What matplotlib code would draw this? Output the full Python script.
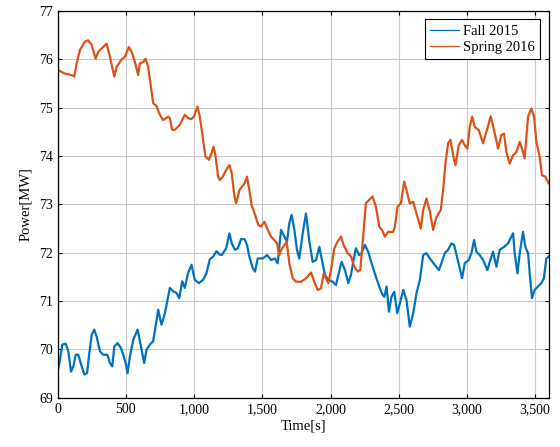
import matplotlib
matplotlib.use("Agg")
import matplotlib.pyplot as plt
from matplotlib.ticker import FuncFormatter

plt.rcParams['font.family'] = ['Liberation Serif', 'DejaVu Serif']
plt.rcParams['mathtext.fontset'] = 'stix'

# Fall 2015 (blue)
fall_t = [0, 5, 17, 34, 59, 78, 98, 115, 132, 151, 176, 195, 215, 232, 249, 268, 285, 310, 334, 364,
          383, 400, 415, 439, 464, 481, 498, 512, 530, 554, 586, 610, 634, 651, 676, 700, 725, 737,
          761, 786, 805, 822, 847, 871, 891, 913, 932, 956, 981, 1005, 1035, 1066, 1091, 1115, 1140,
          1164, 1188, 1203, 1235, 1259, 1276, 1300, 1320, 1344, 1369, 1388, 1405, 1430, 1447, 1466,
          1503, 1535, 1564, 1593, 1613, 1637, 1657, 1681, 1698, 1715, 1735, 1754, 1771, 1796, 1820,
          1845, 1869, 1894, 1918, 1942, 1959, 1984, 2015, 2040, 2057, 2081, 2106, 2130, 2150, 2169,
          2186, 2210, 2228, 2252, 2276, 2301, 2333, 2357, 2381, 2394, 2411, 2428, 2447, 2467, 2489,
          2508, 2533, 2557, 2581, 2606, 2630, 2655, 2679, 2703, 2728, 2764, 2794, 2813, 2838, 2862,
          2886, 2906, 2930, 2947, 2964, 2984, 3013, 3033, 3052, 3069, 3094, 3118, 3150, 3167, 3191,
          3216, 3240, 3272, 3301, 3326, 3338, 3350, 3370, 3387, 3411, 3428, 3448, 3460, 3477, 3496,
          3521, 3545, 3564, 3582, 3600]
fall_v = [69.55, 69.61, 69.79, 70.10, 70.12, 69.96, 69.54, 69.65, 69.89, 69.89, 69.65, 69.48, 69.51,
          69.92, 70.30, 70.41, 70.27, 69.96, 69.89, 69.89, 69.72, 69.65, 70.06, 70.13, 70.03, 69.89,
          69.72, 69.51, 69.86, 70.20, 70.41, 70.06, 69.72, 69.99, 70.10, 70.17, 70.61, 70.82, 70.51,
          70.75, 71.03, 71.27, 71.20, 71.17, 71.06, 71.41, 71.27, 71.58, 71.75, 71.44, 71.37, 71.44,
          71.58, 71.86, 71.92, 72.03, 71.96, 71.95, 72.09, 72.40, 72.19, 72.06, 72.09, 72.28, 72.28,
          72.16, 71.92, 71.68, 71.61, 71.88, 71.88, 71.95, 71.85, 71.88, 71.78, 72.47, 72.36, 72.23,
          72.61, 72.78, 72.47, 72.06, 71.88, 72.40, 72.81, 72.23, 71.81, 71.85, 72.12, 71.78, 71.54,
          71.44, 71.40, 71.33, 71.54, 71.81, 71.64, 71.37, 71.54, 71.85, 72.09, 71.95, 71.99, 72.16,
          72.02, 71.78, 71.50, 71.30, 71.13, 71.09, 71.30, 70.78, 71.09, 71.19, 70.75, 70.95, 71.23,
          71.02, 70.47, 70.75, 71.16, 71.44, 71.95, 71.99, 71.88, 71.75, 71.64, 71.78, 71.99, 72.06,
          72.19, 72.16, 71.88, 71.68, 71.47, 71.78, 71.85, 71.99, 72.26, 72.02, 71.95, 71.85, 71.64,
          71.81, 72.02, 71.71, 72.06, 72.12, 72.19, 72.33, 72.40, 71.99, 71.57, 71.99, 72.43, 72.12,
          71.99, 71.57, 71.06, 71.23, 71.30, 71.37, 71.47, 71.88, 71.92]

# Spring 2016 (orange)
spring_t = [0, 5, 53, 102, 122, 139, 163, 200, 224, 249, 278, 297, 334, 358, 383, 415, 432, 468, 493,
            522, 546, 566, 590, 602, 627, 644, 663, 683, 700, 724, 749, 773, 810, 822, 839, 859, 895,
            932, 956, 981, 1000, 1025, 1042, 1066, 1083, 1108, 1127, 1142, 1156, 1176, 1188, 1210,
            1235, 1259, 1276, 1296, 1308, 1332, 1369, 1388, 1405, 1422, 1447, 1471, 1491, 1515, 1540,
            1564, 1588, 1608, 1625, 1637, 1662, 1679, 1698, 1723, 1747, 1784, 1820, 1857, 1881, 1906,
            1930, 1950, 1967, 1984, 2003, 2028, 2052, 2076, 2096, 2125, 2150, 2174, 2198, 2218, 2235,
            2259, 2284, 2308, 2333, 2357, 2381, 2398, 2423, 2459, 2472, 2491, 2516, 2540, 2557, 2581,
            2606, 2630, 2662, 2679, 2703, 2728, 2752, 2777, 2808, 2825, 2842, 2862, 2879, 2899, 2916,
            2940, 2964, 2984, 3003, 3021, 3038, 3057, 3087, 3118, 3150, 3174, 3199, 3228, 3252, 3272,
            3289, 3313, 3338, 3362, 3387, 3404, 3423, 3448, 3472, 3492, 3509, 3533, 3550, 3574, 3600]
spring_v = [75.72, 75.77, 75.70, 75.67, 75.64, 75.91, 76.19, 76.36, 76.39, 76.29, 76.01, 76.15, 76.25,
            76.32, 76.05, 75.64, 75.84, 75.99, 76.05, 76.25, 76.12, 75.94, 75.67, 75.91, 75.94, 76.01,
            75.84, 75.43, 75.09, 75.03, 74.85, 74.74, 74.81, 74.78, 74.54, 74.54, 74.64, 74.85, 74.78,
            74.76, 74.82, 75.02, 74.81, 74.33, 73.99, 73.92, 74.05, 74.19, 74.02, 73.57, 73.50, 73.57,
            73.71, 73.81, 73.64, 73.16, 73.02, 73.29, 73.43, 73.57, 73.29, 72.98, 72.78, 72.57, 72.54,
            72.64, 72.47, 72.33, 72.26, 72.19, 71.95, 72.05, 72.16, 72.23, 71.78, 71.47, 71.40, 71.40,
            71.47, 71.59, 71.40, 71.23, 71.26, 71.57, 71.47, 71.37, 71.64, 72.09, 72.23, 72.33, 72.16,
            71.99, 71.92, 71.71, 71.61, 71.64, 72.19, 73.02, 73.09, 73.16, 72.95, 72.54, 72.45, 72.33,
            72.43, 72.43, 72.54, 72.95, 73.02, 73.47, 73.29, 73.02, 73.05, 72.81, 72.50, 72.88, 73.12,
            72.85, 72.47, 72.74, 72.88, 73.29, 73.84, 74.26, 74.33, 74.01, 73.81, 74.22, 74.33, 74.22,
            74.15, 74.60, 74.81, 74.60, 74.53, 74.26, 74.57, 74.82, 74.53, 74.15, 74.43, 74.46, 74.08,
            73.84, 74.01, 74.08, 74.29, 74.15, 73.95, 74.81, 74.98, 74.81, 74.29, 73.98, 73.60, 73.57,
            73.43]

x_ticks = [0, 500, 1000, 1500, 2000, 2500, 3000, 3500]
y_ticks = [69, 70, 71, 72, 73, 74, 75, 76, 77]

fig = plt.figure(figsize=(5.6, 4.47), dpi=100)
ax = fig.add_axes([0.103, 0.110, 0.877, 0.866])

ax.plot(fall_t, fall_v, color='#0072BD', lw=1.6, label='Fall 2015',
        solid_joinstyle='round')
ax.plot(spring_t, spring_v, color='#D95319', lw=1.6, label='Spring 2016',
        solid_joinstyle='round')

ax.set_xlim(0, 3600)
ax.set_ylim(69, 77)
ax.set_xticks(x_ticks)
ax.set_yticks(y_ticks)
ax.xaxis.set_major_formatter(FuncFormatter(lambda v, p: f"{int(v):,}"))
ax.tick_params(direction='in', top=True, right=True, labelsize=10, length=3, width=0.8)
ax.grid(True, color='#c8c8c8', lw=0.8)
ax.set_axisbelow(True)
for s in ax.spines.values():
    s.set_linewidth(0.9)

ax.set_xlabel('Time[s]', fontsize=10.5, labelpad=3)
ax.set_ylabel('Power[MW]', fontsize=10.5, labelpad=5)

leg = ax.legend(loc='upper right', fontsize=10.5, fancybox=False, framealpha=1,
                edgecolor='black', handlelength=2.0, borderaxespad=0.6,
                handletextpad=0.3, labelspacing=0.2, borderpad=0.35)
leg.get_frame().set_linewidth(0.8)
for h in leg.get_lines():
    h.set_linewidth(0.9)

fig.savefig('out.png', dpi=100)
